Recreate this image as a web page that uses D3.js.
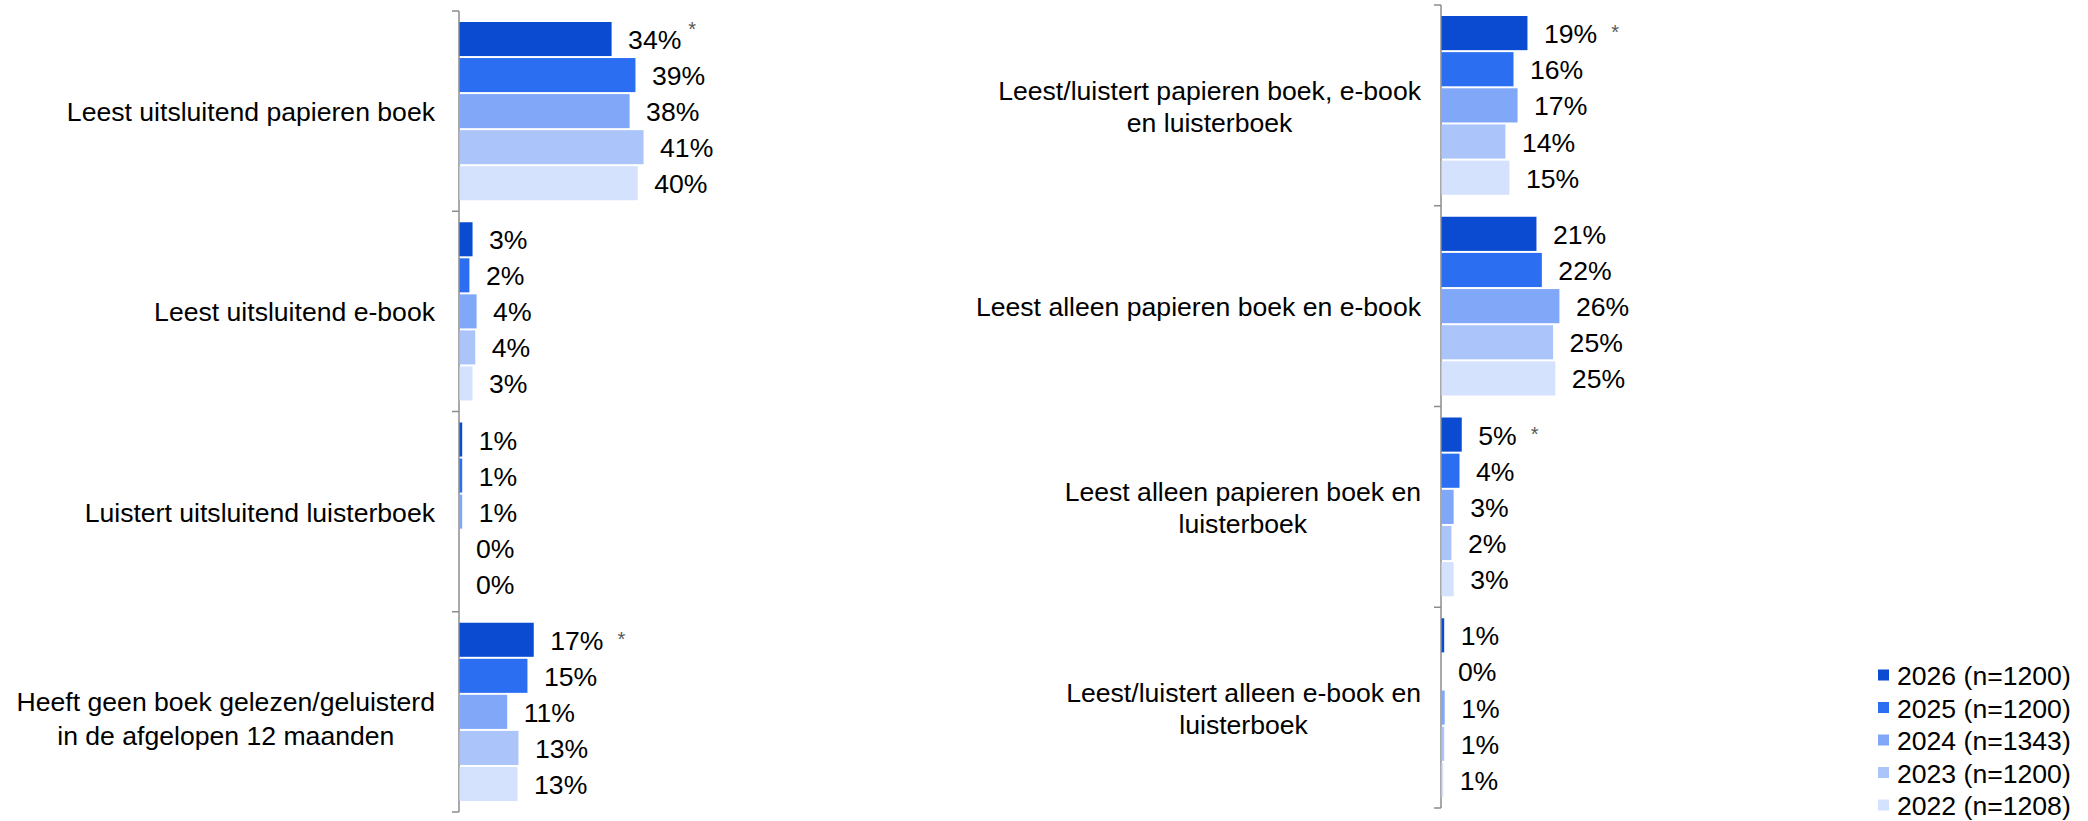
<!DOCTYPE html>
<html>
<head>
<meta charset="utf-8">
<script src="https://cdn.jsdelivr.net/npm/d3@7"></script>
<style>
  html, body { margin: 0; padding: 0; background: #fff; }
  svg { display: block; }
</style>
</head>
<body>
<svg id="chart" width="2088" height="821"></svg>
<script>
// ---------- DATA ----------
const seriesNames = ["2026 (n=1200)", "2025 (n=1200)", "2024 (n=1343)", "2023 (n=1200)", "2022 (n=1208)"];

const leftCategories = [
  ["Leest uitsluitend papieren boek"],
  ["Leest uitsluitend e-book"],
  ["Luistert uitsluitend luisterboek"],
  ["Heeft geen boek gelezen/geluisterd", "in de afgelopen 12 maanden"]
];
// values per category, in series order 2026..2022 (percent)
const leftValues = [
  [33.8, 39.1, 37.8, 40.9, 39.6],
  [2.9, 2.2, 3.8, 3.5, 2.9],
  [0.6, 0.6, 0.6, 0, 0],
  [16.5, 15.1, 10.6, 13.1, 12.9]
];
const leftLabels = [
  ["34%", "39%", "38%", "41%", "40%"],
  ["3%", "2%", "4%", "4%", "3%"],
  ["1%", "1%", "1%", "0%", "0%"],
  ["17%", "15%", "11%", "13%", "13%"]
];
const leftSignificant = [true, false, false, true]; // asterisk on 2026 bar

const rightCategories = [
  ["Leest/luistert papieren boek, e-book", "en luisterboek"],
  ["Leest alleen papieren boek en e-book"],
  ["Leest alleen papieren boek en", "luisterboek"],
  ["Leest/luistert alleen e-book en", "luisterboek"]
];
const rightValues = [
  [19.1, 16.0, 16.9, 14.2, 15.1],
  [21.1, 22.3, 26.2, 24.8, 25.3],
  [4.5, 4.0, 2.7, 2.2, 2.7],
  [0.6, 0, 0.7, 0.6, 0.4]
];
const rightLabels = [
  ["19%", "16%", "17%", "14%", "15%"],
  ["21%", "22%", "26%", "25%", "25%"],
  ["5%", "4%", "3%", "2%", "3%"],
  ["1%", "0%", "1%", "1%", "1%"]
];
const rightSignificant = [true, false, true, false];

// ---------- STYLE ----------
const colors = ["#0a4bd1", "#2b6ef2", "#80a7f8", "#abc5fb", "#d5e2fd"];
const FONT = "'Liberation Sans', Arial, Helvetica, sans-serif";
const FS = 26.6;

const svg = d3.select("#chart");

function drawPanel(cfg) {
  const g = svg.append("g");
  const x = d3.scaleLinear().domain([0, 100]).range([cfg.x0, cfg.x0 + 450]);
  const y = d3.scaleBand().domain(d3.range(cfg.categories.length)).range([cfg.top, cfg.bottom]).padding(0);
  const ys = d3.scaleBand().domain(d3.range(seriesNames.length)).range([10, y.bandwidth() - 10]).padding(0);

  // axis line + outward ticks at category boundaries
  const boundaries = d3.range(cfg.categories.length + 1).map(i => cfg.top + i * y.bandwidth());
  g.append("line").attr("x1", cfg.x0).attr("x2", cfg.x0)
    .attr("y1", cfg.top).attr("y2", cfg.bottom)
    .attr("stroke", "#8c8c8c").attr("stroke-width", 1.5);
  g.selectAll("line.tk").data(boundaries).join("line").attr("class", "tk")
    .attr("x1", cfg.x0 - 7).attr("x2", cfg.x0)
    .attr("y1", d => d).attr("y2", d => d)
    .attr("stroke", "#8c8c8c").attr("stroke-width", 1.5);

  cfg.categories.forEach((lines, ci) => {
    const cg = g.append("g").attr("transform", `translate(0,${y(ci)})`);
    // bars
    cg.selectAll("rect").data(cfg.values[ci]).join("rect")
      .attr("x", cfg.x0 + 0.5)
      .attr("y", (d, si) => ys(si) + 1)
      .attr("width", d => Math.max(0, x(d) - cfg.x0))
      .attr("height", ys.bandwidth() - 2)
      .attr("fill", (d, si) => colors[si]);
    // value labels
    const lbls = cg.selectAll("text.val").data(cfg.values[ci]).join("text").attr("class", "val")
      .attr("x", d => x(d) + 17)
      .attr("y", (d, si) => ys(si) + ys.bandwidth() / 2 + 1)
      .attr("dominant-baseline", "central")
      .attr("font-family", FONT).attr("font-size", FS).attr("fill", "#000")
      .text((d, si) => cfg.labels[ci][si]);
    // significance asterisk on first series
    if (cfg.significant[ci]) {
      const node = lbls.nodes()[0];
      const endX = x(cfg.values[ci][0]) + 17 + node.getComputedTextLength();
      const raised = cfg.raisedStar && cfg.raisedStar[ci];
      cg.append("text")
        .attr("x", endX + (raised ? 7 : 14))
        .attr("y", ys(0) + ys.bandwidth() / 2 + (raised ? -10 : -1))
        .attr("dominant-baseline", "central")
        .attr("font-family", FONT).attr("font-size", 20).attr("fill", "#595959")
        .text("*");
    }
    // category label (centered lines, right-aligned block)
    const lh = cfg.lineH;
    const n = lines.length;
    const cy = y.bandwidth() / 2 + (n > 1 ? cfg.multiOffset : 1);
    const texts = cg.append("g").selectAll("text").data(lines).join("text")
      .attr("font-family", FONT).attr("font-size", FS).attr("fill", "#000")
      .attr("dominant-baseline", "central")
      .attr("y", (d, i) => cy + (i - (n - 1) / 2) * lh)
      .text(d => d);
    const maxW = d3.max(texts.nodes(), t => t.getComputedTextLength());
    texts.attr("text-anchor", "middle").attr("x", cfg.x0 - cfg.labelGap - maxW / 2);
  });
}

drawPanel({
  x0: 459, top: 11, bottom: 812, labelGap: 24, lineH: 33.5, multiOffset: 7,
  categories: leftCategories, values: leftValues, labels: leftLabels,
  significant: leftSignificant, raisedStar: [true, false, false, false]
});
drawPanel({
  x0: 1441, top: 5, bottom: 808, labelGap: 20, lineH: 32, multiOffset: 1.5,
  categories: rightCategories, values: rightValues, labels: rightLabels,
  significant: rightSignificant
});

// legend
const legendY = d3.scalePoint().domain(seriesNames).range([675, 805]);
const lg = svg.append("g");
lg.selectAll("rect").data(seriesNames).join("rect")
  .attr("x", 1878).attr("y", d => legendY(d) - 5.5)
  .attr("width", 11).attr("height", 11)
  .attr("fill", (d, i) => colors[i]);
lg.selectAll("text").data(seriesNames).join("text")
  .attr("x", 1897).attr("y", d => legendY(d) + 1)
  .attr("dominant-baseline", "central")
  .attr("font-family", FONT).attr("font-size", FS).attr("fill", "#000")
  .text(d => d);
</script>
</body>
</html>
